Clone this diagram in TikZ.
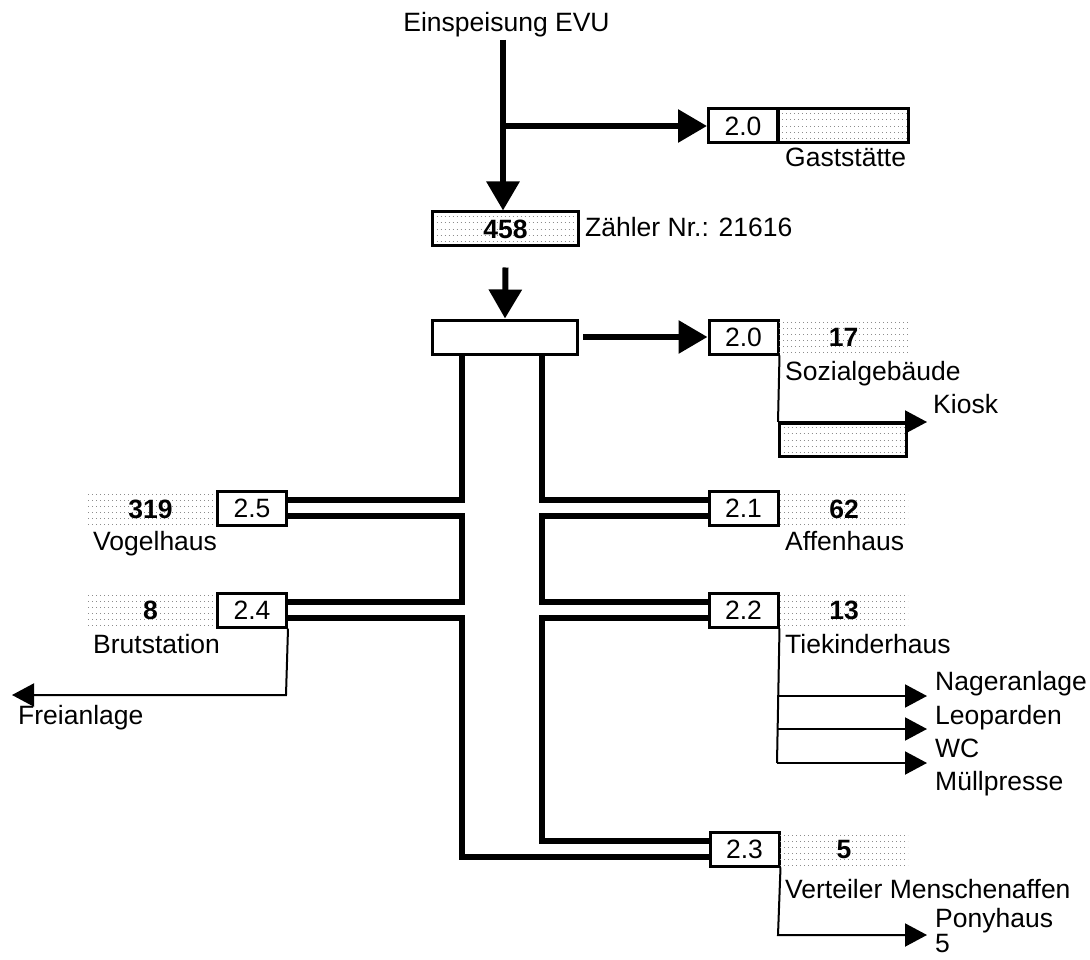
\documentclass[tikz,border=0pt]{standalone}
\usepackage{fontspec}
\setmainfont{Liberation Sans}
\usetikzlibrary{arrows.meta,backgrounds}
\begin{document}
\begin{tikzpicture}[x=1pt,y=-1pt,
  every node/.style={font=\fontsize{26.5}{32}\selectfont, inner sep=0pt},
  box/.style={draw, line width=3pt, fill=white, minimum width=69pt, minimum height=34pt},
  hatchline/.style={black!45, line width=0.6pt, dash pattern=on 1.2pt off 2.8pt},
  hatch/.style={path picture={\foreach \yy in {-15,-9,...,15}{\draw[hatchline] ([yshift=\yy pt]path picture bounding box.west) -- ([yshift=\yy pt]path picture bounding box.east);}}},
  hatchb/.style={path picture={\foreach \yy in {-12.5,-6.25,...,12.6}{\draw[hatchline] ([yshift=\yy pt]path picture bounding box.west) -- ([yshift=\yy pt]path picture bounding box.east);}}},
  bus/.style={line width=5.5pt},
  bigarrow/.style={line width=6pt, -{Triangle[length=29pt,width=32pt]}},
  thinline/.style={line width=2pt},
  smallarrow/.style={line width=2pt, -{Triangle[length=22pt,width=23pt]}},
  lbl/.style={anchor=base west},
]
\useasboundingbox (0,0) rectangle (1090,960);

% ---- top part
\node[anchor=base] (evu) at (506.5,32) {Einspeisung EVU};
\node[box, hatchb, minimum width=130pt] (gasth) at (843,126) {};
\node[box] (gast20) at (743,126) {2.0};
\node[lbl] (gastl) at (785,167) {Gaststätte};

\node[box, hatchb, minimum width=146pt] (z) at (505.5,229) {\bfseries 458};
\node[lbl] (zl) at (585,237) {Zähler Nr.: 21616};

\node[box, minimum width=145pt] (dist) at (505,337) {};

% ---- Sozialgebäude
\node[box] (s20) at (743.5,337) {2.0};
\node[hatch, minimum width=129pt, minimum height=30pt] (s20h) at (843.5,337) {\bfseries 17};
\node[lbl] (s20l) at (785,380) {Sozialgebäude};
\node[box, hatchb, minimum width=127pt, minimum height=33pt] (kiosk) at (843,440) {};
\node[lbl] (kioskl) at (933,413) {Kiosk};

% ---- left boxes
\node[box] (b25) at (252,508) {2.5};
\node[hatch, minimum width=125pt, minimum height=30pt] (b25h) at (150.5,509) {\bfseries 319};
\node[lbl] (b25l) at (93,550) {Vogelhaus};
\node[box] (b24) at (252,610) {2.4};
\node[hatch, minimum width=125pt, minimum height=30pt] (b24h) at (150.5,610) {\bfseries 8};
\node[lbl] (b24l) at (93,653) {Brutstation};
\node[lbl] (frei) at (18,724) {Freianlage};

% ---- right boxes
\node[box] (b21) at (743.5,508) {2.1};
\node[hatch, minimum width=128pt, minimum height=30pt] (b21h) at (844,509) {\bfseries 62};
\node[lbl] (b21l) at (785,550) {Affenhaus};
\node[box] (b22) at (743.5,610) {2.2};
\node[hatch, minimum width=128pt, minimum height=30pt] (b22h) at (844,610) {\bfseries 13};
\node[lbl] (b22l) at (785,653) {Tiekinderhaus};
\node[lbl] (nag) at (935,690) {Nageranlage};
\node[lbl] (leo) at (935,724) {Leoparden};
\node[lbl] (wc) at (935,757) {WC};
\node[lbl] (muell) at (935,790) {Müllpresse};

\node[box] (b23) at (744.5,849) {2.3};
\node[hatch, minimum width=128pt, minimum height=30pt] (b23h) at (844,850) {\bfseries 5};
\node[lbl] (b23l) at (785,898) {Verteiler Menschenaffen};
\node[lbl] (pony) at (935,927) {Ponyhaus};
\node[lbl] (pony5) at (935,952) {5};

% ---- coordinates
\coordinate (top) at (503,40);
\coordinate (L) at (462,355);
\coordinate (R) at (542,355);
\coordinate (b25a) at ([yshift=8pt]b25.east);
\coordinate (b25b) at ([yshift=-8pt]b25.east);
\coordinate (b24a) at ([yshift=8pt]b24.east);
\coordinate (b24b) at ([yshift=-8pt]b24.east);
\coordinate (b21a) at ([yshift=8pt]b21.west);
\coordinate (b21b) at ([yshift=-8pt]b21.west);
\coordinate (b22a) at ([yshift=8pt]b22.west);
\coordinate (b22b) at ([yshift=-8pt]b22.west);
\coordinate (b23a) at ([yshift=8pt]b23.west);
\coordinate (b23b) at ([yshift=-8pt]b23.west);
\coordinate (k1) at (778,422);
\coordinate (kioskTip) at (927,422);
\coordinate (f1) at (286,695);
\coordinate (freiTip) at (12,695);
\coordinate (t1) at (777,696);
\coordinate (t2) at (777,729);
\coordinate (t3) at (777,763);
\coordinate (nagTip) at (927,696);
\coordinate (leoTip) at (927,729);
\coordinate (wcTip) at (927,763);
\coordinate (p1) at (778,935);
\coordinate (ponyTip) at (927,935);

\begin{scope}[on background layer]
  % feed
  \draw[bigarrow] (top) -- (top |- z.north);
  \draw[bigarrow] (top |- gast20.west) -- (gast20.west);
  \draw[bigarrow] ([yshift=-20pt]z.south) -- (dist.north);
  \draw[bigarrow] ([xshift=4pt]dist.east) -- (s20.west);
  % left bus
  \draw[bus] (L) -- (L |- b25a) -- (b25a);
  \draw[bus] (b25b) -- (L |- b25b) -- (L |- b24a) -- (b24a);
  \draw[bus] (b24b) -- (L |- b24b) -- (L |- b23b) -- (b23b);
  % right bus
  \draw[bus] (R) -- (R |- b21a) -- (b21a);
  \draw[bus] (b21b) -- (R |- b21b) -- (R |- b22a) -- (b22a);
  \draw[bus] (b22b) -- (R |- b22b) -- (R |- b23a) -- (b23a);
  % thin branches
  \draw[thinline] (s20.south east) -- (k1);
  \draw[smallarrow] (k1) -- (kioskTip);
  \draw[smallarrow] (b24.south east) -- (f1) -- (freiTip);
  \draw[thinline] (b22.south east) -- (t3);
  \draw[smallarrow] (t1) -- (nagTip);
  \draw[smallarrow] (t2) -- (leoTip);
  \draw[smallarrow] (t3) -- (wcTip);
  \draw[smallarrow] (b23.south east) -- (p1) -- (ponyTip);
\end{scope}
\end{tikzpicture}
\end{document}
